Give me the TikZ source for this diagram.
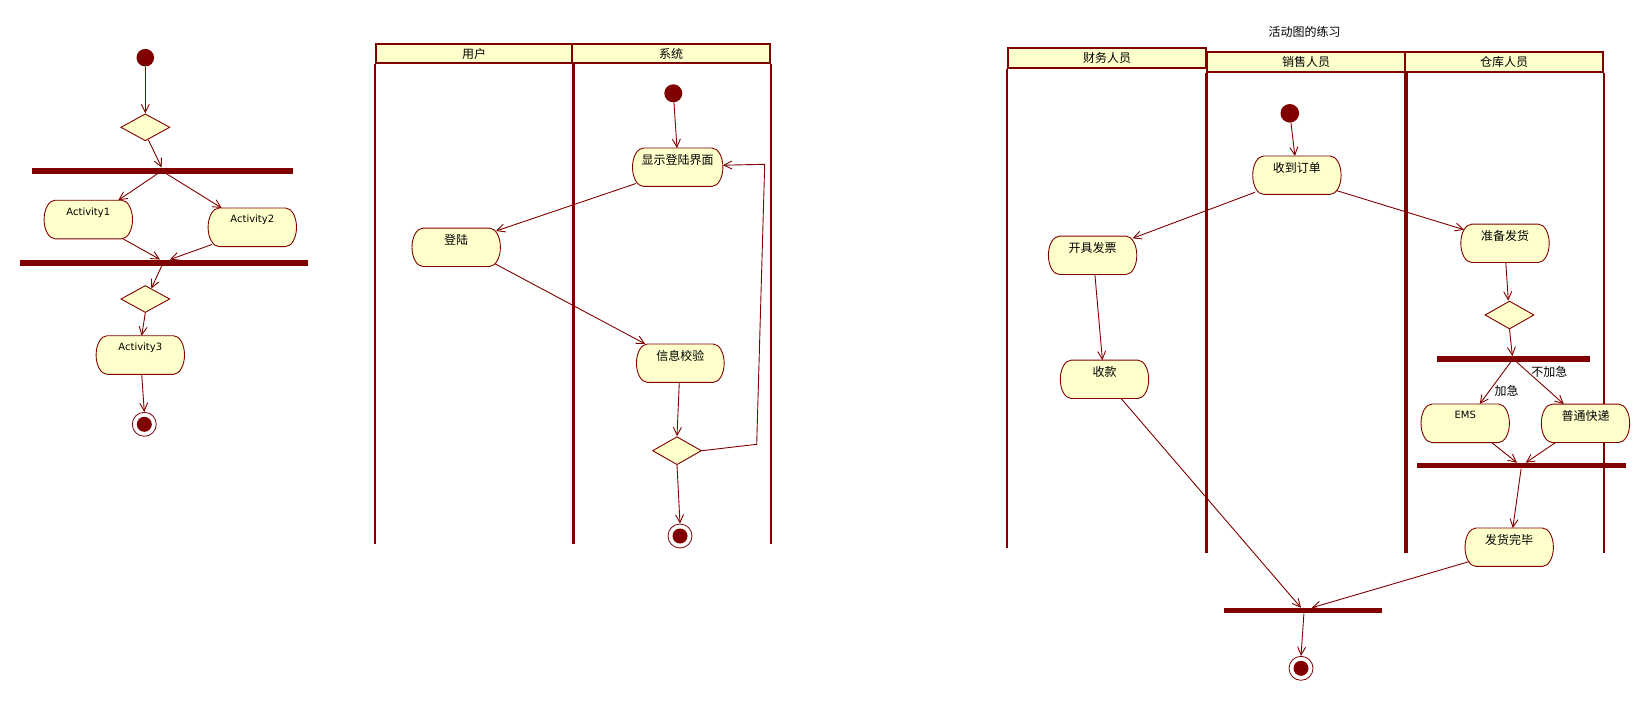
\documentclass[tikz,border=0pt]{standalone}
\usepackage{fontspec}
\setmainfont{DejaVu Sans}
\newfontfamily\cjk{Noto Sans CJK SC}
\usetikzlibrary{arrows.meta,shapes.geometric,calc}
\pgfdeclarelayer{lanes}
\pgfdeclarelayer{shapes}
\pgfsetlayers{lanes,shapes,main}
\definecolor{umlred}{RGB}{128,0,0}
\definecolor{umlfill}{RGB}{255,255,204}

\tikzset{
  flow/.style={draw=umlred, line width=0.9pt, -{Straight Barb[length=8pt,width=8pt]}},
  act/.style={rectangle, inner xsep=0pt, inner ysep=0pt, minimum width=88pt,
    text height=14.7pt, text depth=23.5pt, font=\fontsize{10}{12}\selectfont},
  cjkact/.style={act, text height=16pt, text depth=22pt, font=\cjk\fontsize{12}{14}\selectfont},
  outline/.style={draw=umlred, fill=umlfill, line width=0.9pt},
  startdot/.style={circle, fill=umlred, minimum size=18pt, inner sep=0pt},
  enddot/.style={circle, draw=umlred, fill=white, line width=0.8pt, minimum size=24pt, inner sep=0pt,
    path picture={\fill[umlred] (path picture bounding box.center) circle (7.5pt);}},
  decision/.style={diamond, draw=umlred, fill=umlfill, line width=0.9pt,
    minimum width=49pt, minimum height=27pt, inner sep=0pt},
  syncbar/.style={rectangle, fill=umlred, minimum height=6pt, inner sep=0pt},
  lane/.style={draw=umlred, line width=2pt},
  divider/.style={draw=umlred, line width=3.5pt},
  header/.style={rectangle, draw=umlred, fill=umlfill, line width=2pt, inner sep=0pt,
    font=\cjk\fontsize{12}{14}\selectfont},
  guard/.style={font=\cjk\fontsize{12}{14}\selectfont, inner sep=0pt},
}

\begin{document}
\begin{tikzpicture}[x=1pt,y=-1pt]
\begin{pgfonlayer}{lanes}
  \fill[white] (0,0) rectangle (1649,701);
\end{pgfonlayer}
\useasboundingbox (0,0) rectangle (1649,701);

% ---------- simple activity flow ----------
\node[startdot, minimum size=17.6pt] (s1) at (145.3,57.7) {};
\node[decision] (d1) at (145.3,127.3) {};
\node[syncbar, minimum width=260.7pt] (f1) at (162.3,170.7) {};
\node[act] (act1) at (88.3,219.5) {Activity1};
\node[act] (act2) at (252.3,227.3) {Activity2};
\node[syncbar, minimum width=288pt] (j1) at (164,262.7) {};
\node[decision] (d2) at (145.3,299) {};
\node[act] (act3) at (140.3,355) {Activity3};
\node[enddot] (e1) at (144.3,424.3) {};

\draw[flow] (s1) -- (d1.north);
\draw[flow] ([xshift=3pt,yshift=1.5pt]d1.south) -- ([xshift=-0.6pt]f1.north);
\draw[flow] ([xshift=-5pt]f1.south) -- ([xshift=30pt]act1.north);
\draw[flow] ([xshift=4.4pt]f1.south) -- ([xshift=-30.6pt]act2.north);
\draw[flow] ([xshift=34.7pt]act1.south) -- ([xshift=-4pt]j1.north);
\draw[flow] ([xshift=-40.3pt,yshift=-17.2pt]act2.center) -- ([xshift=6pt]j1.north);
\draw[flow] ([xshift=-2.3pt]j1.south) -- ([xshift=6pt,yshift=-3.5pt]d2.north);
\draw[flow] (d2.south) -- ([xshift=1.4pt]act3.north);
\draw[flow] ([xshift=1.4pt]act3.south) -- (e1.north);

% ---------- login swimlanes ----------
\begin{pgfonlayer}{lanes}
  \node[header, minimum width=196.6pt, minimum height=19.3pt] (hU) at (474,53.65) {用户};
  \node[header, minimum width=197.7pt, minimum height=19.3pt] (hS) at (671.15,53.65) {系统};
  \draw[lane] (hU.south west) -- ++(0,479.7);
  \draw[divider] (hU.south east) -- ++(0,479.7);
  \draw[lane, line width=2.5pt] (hS.south east) -- ++(0,479.7);
\end{pgfonlayer}

\node[startdot] (s2) at (673.3,93.3) {};
\node[cjkact, minimum width=90pt] (show) at (677.7,167.2) {显示登陆界面};
\node[cjkact] (login) at (456.2,247.3) {登陆};
\node[cjkact, minimum width=87.3pt] (check) at (680.3,363.2) {信息校验};
\node[decision, minimum height=28pt] (d3) at (677,450.7) {};
\node[enddot] (e2) at (680,536) {};
\coordinate (loopA) at (756.7,444.3);
\coordinate (loopB) at (764.7,164.3);

\draw[flow] (s2) -- ([xshift=-0.7pt]show.north);
\draw[flow] ([xshift=-41.7pt,yshift=-16.3pt]show.center) -- ([xshift=39.8pt,yshift=16.3pt]login.center);
\draw[flow] ([xshift=38.8pt,yshift=-16.5pt]login.center) -- ([xshift=-35pt]check.north);
\draw[flow] ([xshift=-1pt]check.south) -- (d3.north);
\draw[flow] (d3.east) -- (loopA) -- (loopB) -- ([yshift=2pt]show.east);
\draw[flow] (d3.south) -- (e2.north);

% ---------- order handling swimlanes ----------
\node[guard] (title) at (1304.7,31.7) {活动图的练习};
\begin{pgfonlayer}{lanes}
  \node[header, minimum width=198.2pt, minimum height=20pt] (hF) at (1107,58.3) {财务人员};
  \node[header, minimum width=197.8pt, minimum height=19.7pt] (hX) at (1306.2,61.85) {销售人员};
  \node[header, minimum width=198.1pt, minimum height=19.7pt] (hW) at (1504.15,61.85) {仓库人员};
  \draw[lane] (hF.south west) -- ++(0,478.4);
  \draw[lane] (hF.south east) -- ++(0,478.4);
  \draw[divider] (hX.south west) -- ++(0,480);
  \draw[divider] (hX.south east) -- ++(0,480);
  \draw[lane, line width=2.5pt] (hW.south east) -- ++(0,480);
\end{pgfonlayer}

\node[startdot, minimum size=18.6pt] (s3) at (1289.8,113.3) {};
\node[cjkact] (recv) at (1296.9,175.2) {收到订单};
\node[cjkact] (invoice) at (1092.6,255.3) {开具发票};
\node[cjkact] (prep) at (1505,243.3) {准备发货};
\node[cjkact] (pay) at (1104.5,379.3) {收款};
\node[decision, minimum height=28pt] (d4) at (1509.5,315) {};
\node[syncbar, minimum width=153pt, minimum height=5.5pt] (f2) at (1513.1,359) {};
\node[act] (ems) at (1465.2,423.3) {EMS};
\node[cjkact] (normal) at (1585.5,423.3) {普通快递};
\node[syncbar, minimum width=209.3pt, minimum height=5.5pt] (j2) at (1521.4,465.7) {};
\node[cjkact] (done) at (1509.2,547.2) {发货完毕};
\node[syncbar, minimum width=158.4pt, minimum height=5.5pt] (j3) at (1303.1,610.7) {};
\node[enddot] (e3) at (1301,668.3) {};
\node[guard] (urgent) at (1506.6,391) {加急};
\node[guard] (plain) at (1549.3,372.3) {不加急};

\draw[flow] (s3) -- ([xshift=-2pt]recv.north);
\draw[flow] ([xshift=-41.9pt,yshift=-17.1pt]recv.center) -- ([xshift=40pt,yshift=17pt]invoice.center);
\draw[flow] ([xshift=40pt,yshift=-15.5pt]recv.center) -- ([xshift=-41pt,yshift=13.6pt]prep.center);
\draw[flow] ([xshift=2.3pt]invoice.south) -- ([xshift=-2.1pt]pay.north);
\draw[flow] ([xshift=0.8pt]prep.south) -- ([xshift=-1.2pt]d4.north);
\draw[flow] (d4.south) -- ([xshift=-0.7pt]f2.north);
\draw[flow] ([xshift=-2.3pt]f2.south) -- ([xshift=14.5pt]ems.north);
\draw[flow] ([xshift=3.5pt]f2.south) -- ([xshift=-21.7pt]normal.north);
\draw[flow] ([xshift=26.5pt]ems.south) -- ([xshift=-4.4pt]j2.north);
\draw[flow] ([xshift=-29.9pt]normal.south) -- ([xshift=4.3pt]j2.north);
\draw[flow] ([xshift=-0.3pt]j2.south) -- ([xshift=3.6pt]done.north);
\draw[flow] ([xshift=16.6pt]pay.south) -- ([xshift=-2.1pt]j3.north);
\draw[flow] ([xshift=-40.4pt,yshift=-14.5pt]done.center) -- ([xshift=8.7pt]j3.north);
\draw[flow] ([xshift=0.8pt]j3.south) -- (e3.north);

% rounded outlines of all action states, drawn beneath their labels
\begin{pgfonlayer}{shapes}
\foreach \nd in {act1,act2,act3,show,login,check,recv,invoice,prep,pay,ems,normal,done}
  \filldraw[outline] let \p1=(\nd.north east), \p2=(\nd.south west), \n1={(\y1-\y2)/2} in
    (\x2+11pt,\y1) -- (\x1-11pt,\y1)
    arc[start angle=90,end angle=-90,x radius=11pt,y radius=\n1]
    -- (\x2+11pt,\y2)
    arc[start angle=270,end angle=90,x radius=11pt,y radius=\n1] -- cycle;
\end{pgfonlayer}
\end{tikzpicture}
\end{document}
